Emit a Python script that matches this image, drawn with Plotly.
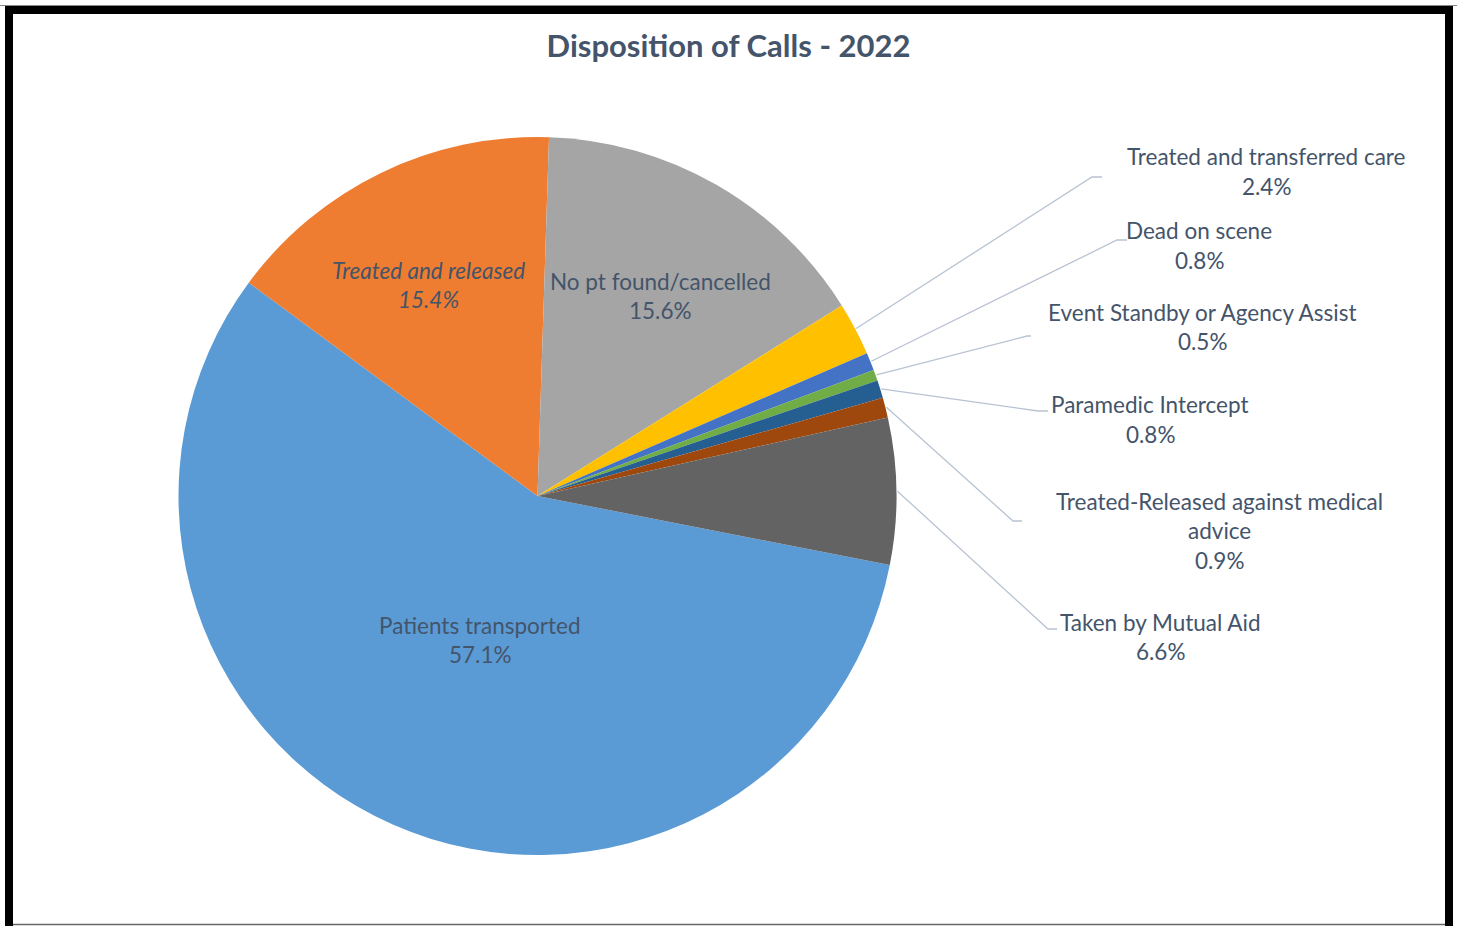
import math
import plotly.graph_objects as go

# ---------------- data ----------------
categories = [
    "Patients transported",
    "Treated and released",
    "No pt found/cancelled",
    "Treated and transferred care",
    "Dead on scene",
    "Event Standby or Agency Assist",
    "Paramedic Intercept",
    "Treated-Released against medical advice",
    "Taken by Mutual Aid",
]
percent = [57.1, 15.4, 15.6, 2.4, 0.8, 0.5, 0.8, 0.9, 6.6]
label_lines = [
    ["Patients transported"],
    ["Treated and released"],
    ["No pt found/cancelled"],
    ["Treated and transferred care"],
    ["Dead on scene"],
    ["Event Standby or Agency Assist"],
    ["Paramedic Intercept"],
    ["Treated-Released against medical", "advice"],
    ["Taken by Mutual Aid"],
]
title_text = "Disposition of Calls - 2022"

# ---------------- style / layout ----------------
colors = ["#5B9BD5", "#EF7D31", "#A5A5A5", "#FFC000", "#4472C4",
          "#70AD47", "#255E91", "#9E480E", "#636363"]
italic = [False, True, False, False, False, False, False, False, False]
W, H = 1457, 926
CX, CY, R = 537.5, 496.0, 359.0
ROT = 101.1
FONT = "Lato"
TXT = "#44546A"
LS = 29.5  # line spacing px
FS = 22.5

# label placement: (text centre x, first-line y) in px
text_pos = {0: (480, 625), 1: (428, 270), 2: (660, 281),
            3: (1266, 157), 4: (1199, 231), 5: (1202, 312),
            6: (1150, 405), 7: (1219, 501), 8: (1160, 622)}
# leader elbow points for outside labels, in px
out_elbow = {3: ((1092, 177), (1102, 177)), 4: ((1117, 240), (1127, 240)),
             5: ((1027, 336), (1031, 336)), 6: ((1038, 411), (1048, 411)),
             7: ((1013, 521), (1022, 521)), 8: ((1048, 629), (1057, 629))}


def px(x):
    return x / W


def py(y):
    return 1 - y / H


def polar(theta_deg, r):
    t = math.radians(theta_deg)
    return CX + r * math.sin(t), CY - r * math.cos(t)


fig = go.Figure()
fig.add_trace(go.Pie(
    labels=categories,
    values=percent,
    sort=False,
    direction="clockwise",
    rotation=ROT,
    marker=dict(colors=colors, line=dict(width=0)),
    textinfo="none",
    hoverinfo="label+percent",
    showlegend=False,
    domain=dict(x=[px(CX - R), px(CX + R)], y=[py(CY + R), py(CY - R)]),
))

annotations = []
shapes = []
total = sum(percent)
cum = 0.0
for i, v in enumerate(percent):
    start = ROT + 360 * cum / total
    cum += v
    end = ROT + 360 * cum / total
    mid = (start + end) / 2
    lines = label_lines[i] + [f"{v:.1f}%"]
    x0, ytop = text_pos[i]
    if i in out_elbow:
        sx, sy = polar(mid, R + 1)
        (ex, ey), (hx, hy) = out_elbow[i]
        shapes.append(dict(
            type="path", xref="paper", yref="paper",
            path=f"M {px(sx)} {py(sy)} L {px(ex)} {py(ey)} L {px(hx)} {py(hy)}",
            line=dict(color="#B8C3D1", width=1.3),
        ))
    for k, ln in enumerate(lines):
        t = f"<i>{ln}</i>" if italic[i] else ln
        annotations.append(dict(
            x=px(x0), y=py(ytop + k * LS), xref="paper", yref="paper",
            text=t, showarrow=False, xanchor="center", yanchor="middle",
            font=dict(family=FONT, size=FS, color=TXT),
        ))

# frame
shapes.append(dict(type="rect", xref="paper", yref="paper",
                   x0=px(9), x1=px(1449), y0=py(10), y1=py(960),
                   line=dict(color="black", width=8), fillcolor="rgba(0,0,0,0)"))
shapes.append(dict(type="line", xref="paper", yref="paper",
                   x0=0, x1=1, y0=py(5.5), y1=py(5.5),
                   line=dict(color="#888888", width=1)))
shapes.append(dict(type="line", xref="paper", yref="paper",
                   x0=px(13), x1=px(1445), y0=py(924.5), y1=py(924.5),
                   line=dict(color="#666666", width=1.5)))

fig.update_layout(
    width=W, height=H,
    margin=dict(l=0, r=0, t=0, b=0),
    paper_bgcolor="white",
    title=dict(text=f"<b>{title_text}</b>", x=px(728.5), y=py(46),
               xanchor="center", yanchor="middle",
               font=dict(family=FONT, size=31, color=TXT)),
    annotations=annotations,
    shapes=shapes,
)

fig.write_html("out.html")
